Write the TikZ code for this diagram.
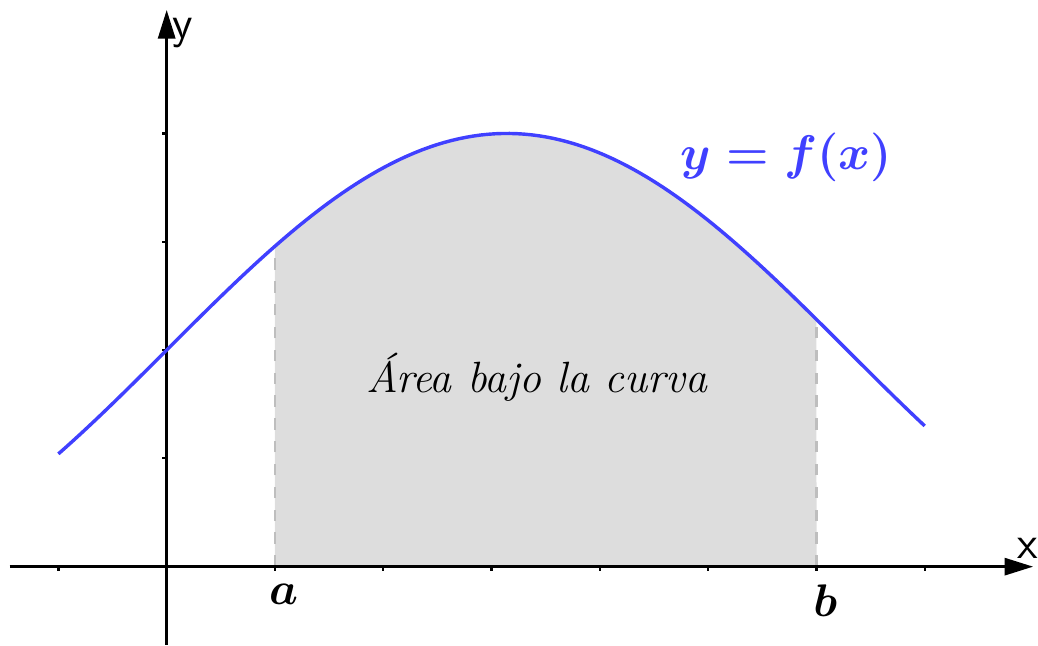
\documentclass[tikz,border=0pt]{standalone}
\usepackage{amsmath}
\usetikzlibrary{arrows.meta}
\definecolor{curveblue}{RGB}{64,64,255}
\definecolor{areagray}{RGB}{221,221,221}
\definecolor{dashgray}{RGB}{190,190,190}
\begin{document}
\begin{tikzpicture}[x=1cm,y=1cm]
\useasboundingbox (-1.539,-0.732) rectangle (8.045,5.232);
% area under the curve
\fill[areagray] (1,0) -- plot[domain=1:6,samples=60] (\x,{2+2*sin(\x/2 r)}) -- (6,0) -- cycle;
\draw[dashgray,dashed,line width=0.6pt] (1,0) -- (1,{2+2*sin(0.5 r)});
\draw[dashgray,dashed,line width=0.6pt] (6,0) -- (6,{2+2*sin(3 r)});
% axes
\draw[line width=0.7pt,-{Triangle[length=7.5pt,width=4.5pt]}] (-1.45,0) -- (8.0,0);
\draw[line width=0.7pt,-{Triangle[length=7.5pt,width=4.5pt]}] (0,-0.72) -- (0,5.14);
\foreach \t in {-1,1,2,3,4,5,6,7} \draw[line width=0.6pt] (\t,0) -- (\t,-0.04);
\foreach \t in {1,2,3,4} \draw[line width=0.6pt] (0,\t) -- (-0.04,\t);
\node (xlabel) at (7.95,0.17) [font=\sffamily\large] {x};
\node (ylabel) at (0.15,4.93) [font=\sffamily\large] {y};
% the curve
\draw[curveblue,line width=0.9pt] plot[domain=-1:7,samples=120] (\x,{2+2*sin(\x/2 r)});
\node (alabel) at (1.08,-0.26) [font=\large] {$\boldsymbol{a}$};
\node (blabel) at (6.08,-0.31) [font=\large] {$\boldsymbol{b}$};
\node (flabel) at (5.72,3.78) [font=\large,scale=1.065,text=curveblue] {$\boldsymbol{y=f(x)}$};
\node (area) at (3.42,1.75) [font=\fontsize{11.5}{14}\selectfont\itshape] {Área bajo la curva};
\end{tikzpicture}
\end{document}
